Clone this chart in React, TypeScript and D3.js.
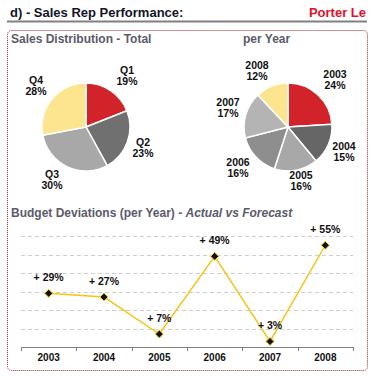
import React from 'react';
import * as d3 from 'd3';

const quarters = ['Q1', 'Q2', 'Q3', 'Q4'];
const quarterShares = [19, 23, 30, 28];
const quarterColors = ['#d2232a', '#707070', '#a8a8a8', '#fde58f'];

const years = ['2003', '2004', '2005', '2006', '2007', '2008'];
const yearShares = [24, 15, 16, 16, 17, 12];
const yearColors = ['#d2232a', '#666666', '#a8a8a8', '#8e8e8e', '#b4b4b4', '#fde58f'];

const deviations = [29, 27, 7, 49, 3, 55];
const gridValues = [10, 20, 30, 40, 50, 60];

// label positions (x, y of first line)
const quarterLabelPos = [[127, 74], [143, 146], [52, 178], [36, 84]];
const yearLabelPos = [[335, 78], [344, 150], [301, 179], [238, 166], [228, 106], [257, 69]];

const font = 'Arial, "Liberation Sans", sans-serif';
const titleColor = '#5b5b6b';

function Pie({ cx, cy, r, labels, values, colors, labelPos }: any) {
  const pie = d3.pie<number>().sort(null).value(d => d);
  const arc = d3.arc<d3.PieArcDatum<number>>().innerRadius(0).outerRadius(r);
  const arcs = pie(values);
  return (
    <g>
      <g transform={`translate(${cx},${cy})`}>
        {arcs.map((a, i) => (
          <path key={i} d={arc(a) || ''} fill={colors[i]} stroke="#fff" strokeWidth={1.5} />
        ))}
      </g>
      {labels.map((l: string, i: number) => (
        <text key={l} x={labelPos[i][0]} y={labelPos[i][1]} textAnchor="middle"
          fontFamily={font} fontWeight="bold" fontSize={10.5} fill="#111">
          <tspan x={labelPos[i][0]}>{l}</tspan>
          <tspan x={labelPos[i][0]} dy={11}>{values[i]}%</tspan>
        </text>
      ))}
    </g>
  );
}

export default function App() {
  const x = d3.scaleBand().domain(years).range([21, 353]);
  const y = d3.scaleLinear().domain([0, 60]).range([347, 236]);
  const line = d3.line<number>()
    .x((_, i) => (x(years[i]) as number) + x.bandwidth() / 2)
    .y(d => y(d));
  const tickXs = [...years.map(yr => x(yr) as number), 353];

  return (
    <div style={{ position: 'fixed', left: 0, top: 0 }}>
      <svg width={372} height={376} style={{ display: 'block', background: '#fff' }}>
        {/* header */}
        <text x={10} y={17} fontFamily={font} fontWeight="bold" fontSize={13} fill="#141428">d) - Sales Rep Performance:</text>
        <text x={366} y={17} textAnchor="end" fontFamily={font} fontWeight="bold" fontSize={13} fill="#e0102a">Porter Le</text>
        <line x1={7} x2={367} y1={21.5} y2={21.5} stroke="#808080" strokeWidth={2} />

        {/* dotted box */}
        <rect x={7.5} y={30.5} width={360} height={340} rx={4} fill="none" stroke="#a8282e" strokeWidth={1} strokeDasharray="1,1" />

        <text x={11} y={43} fontFamily={font} fontWeight="bold" fontSize={12} fill={titleColor}>Sales Distribution - Total</text>
        <text x={243} y={43} fontFamily={font} fontWeight="bold" fontSize={12} fill={titleColor}>per Year</text>

        <Pie cx={86} cy={127} r={44} labels={quarters} values={quarterShares} colors={quarterColors} labelPos={quarterLabelPos} />
        <Pie cx={288} cy={127} r={44} labels={years} values={yearShares} colors={yearColors} labelPos={yearLabelPos} />

        <text x={11} y={217} fontFamily={font} fontWeight="bold" fontSize={12} fill={titleColor}>
          Budget Deviations (per Year) - <tspan fontStyle="italic">Actual vs Forecast</tspan>
        </text>

        {/* grid */}
        {gridValues.map(v => (
          <line key={v} x1={21} x2={353} y1={Math.round(y(v)) + 0.5} y2={Math.round(y(v)) + 0.5}
            stroke="#cfcfcf" strokeDasharray="4,3" />
        ))}
        <line x1={21} x2={353} y1={347.5} y2={347.5} stroke="#808080" />
        {tickXs.map((tx, i) => (
          <line key={i} x1={Math.round(tx) + 0.5} x2={Math.round(tx) + 0.5} y1={347} y2={351} stroke="#808080" />
        ))}
        {years.map(yr => (
          <text key={yr} x={(x(yr) as number) + x.bandwidth() / 2} y={361} textAnchor="middle"
            fontFamily={font} fontWeight="bold" fontSize={10} fill="#111">{yr}</text>
        ))}

        <path d={line(deviations) || ''} fill="none" stroke="#f5c518" strokeWidth={1.5} />
        {deviations.map((v, i) => {
          const px = (x(years[i]) as number) + x.bandwidth() / 2;
          const py = y(v);
          return (
            <g key={i}>
              <path d={`M${px},${py - 4}L${px + 4},${py}L${px},${py + 4}L${px - 4},${py}Z`} fill="#111" stroke="#f5c518" strokeWidth={1} />
              <text x={px} y={py - 12} textAnchor="middle" fontFamily={font} fontWeight="bold" fontSize={10.5} fill="#111">+ {v}%</text>
            </g>
          );
        })}
      </svg>
    </div>
  );
}
